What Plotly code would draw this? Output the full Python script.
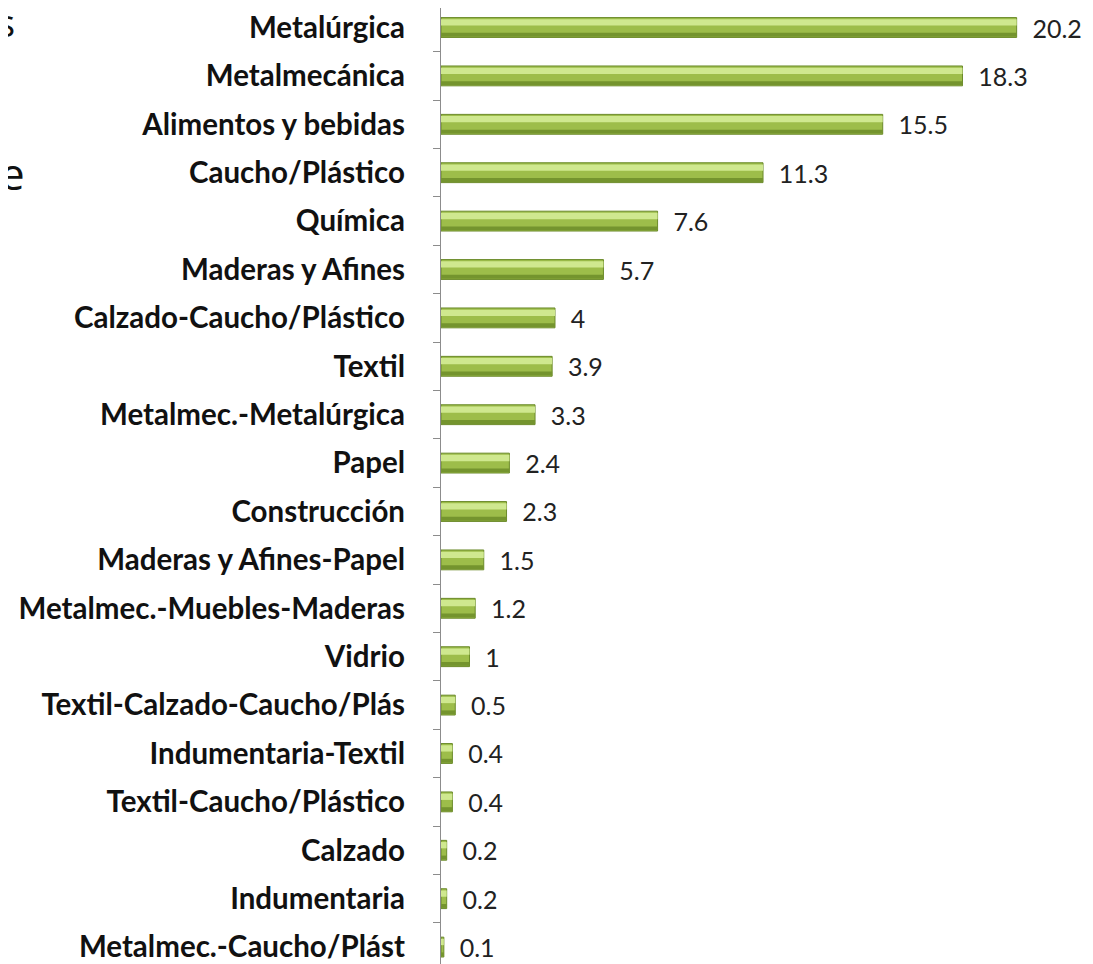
import plotly.graph_objects as go

# Datos: sectores y porcentaje
sectores = [
    "Metalúrgica", "Metalmecánica", "Alimentos y bebidas", "Caucho/Plástico",
    "Química", "Maderas y Afines", "Calzado-Caucho/Plástico", "Textil",
    "Metalmec.-Metalúrgica", "Papel", "Construcción", "Maderas y Afines-Papel",
    "Metalmec.-Muebles-Maderas", "Vidrio", "Textil-Calzado-Caucho/Plás",
    "Indumentaria-Textil", "Textil-Caucho/Plástico", "Calzado", "Indumentaria",
    "Metalmec.-Caucho/Plást",
]
valores = [20.2, 18.3, 15.5, 11.3, 7.6, 5.7, 4, 3.9, 3.3, 2.4, 2.3, 1.5, 1.2, 1,
           0.5, 0.4, 0.4, 0.2, 0.2, 0.1]

fig = go.Figure()

# barra base (verde)
fig.add_trace(go.Bar(
    x=valores, y=sectores, orientation='h',
    width=0.41,
    marker=dict(color='#9dbd4a', line=dict(color='#6b8a2a', width=1)),
    text=['\u00a0\u00a0' + str(v) for v in valores],
    textposition='outside',
    constraintext='none',
    textfont=dict(family='Lato', size=25, color='#222222'),
    cliponaxis=False,
    hoverinfo='x+y',
))
# brillo superior
fig.add_trace(go.Bar(
    x=valores, y=sectores, orientation='h',
    width=0.13, offset=-0.17,
    marker=dict(color='#cfe88f', line=dict(width=0)),
    hoverinfo='skip',
))
# sombra inferior
fig.add_trace(go.Bar(
    x=valores, y=sectores, orientation='h',
    width=0.08, offset=0.11,
    marker=dict(color='#74942e', line=dict(width=0)),
    hoverinfo='skip',
))

fig.update_layout(
    barmode='overlay',
    showlegend=False,
    width=1093, height=964,
    margin=dict(l=433, r=0, t=0, b=0),
    plot_bgcolor='white', paper_bgcolor='white',
    xaxis=dict(range=[0, 23.16], visible=False),
    yaxis=dict(
        range=[19.515, -0.403],
        showline=True, linecolor='#8c8c8c', linewidth=1.2,
        ticks='outside', tickson='boundaries', ticklen=7, tickcolor='#8c8c8c',
        tickfont=dict(family='Lato', size=29.5, color='#111111', weight='bold'),
        ticklabelstandoff=29,
        showgrid=False,
    ),
)

# fragmentos de texto recortados a la izquierda (como en la diapositiva original)
fig.add_annotation(text='s', xref='paper', yref='paper', x=-424 / 660, y=1 - 14 / 964,
                   xanchor='right', yanchor='middle', showarrow=False,
                   font=dict(family='Open Sans', size=38, color='#111111'))
fig.add_annotation(text='e', xref='paper', yref='paper', x=-414 / 660, y=1 - 165 / 964,
                   xanchor='right', yanchor='middle', showarrow=False,
                   font=dict(family='Open Sans', size=44, color='#111111'))

fig.write_html("out.html")
